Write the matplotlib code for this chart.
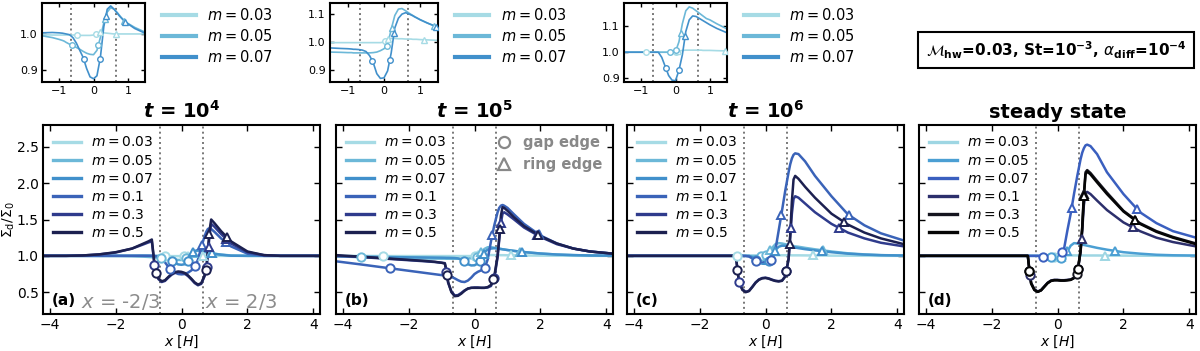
import numpy as np
import matplotlib.pyplot as plt
from matplotlib.lines import Line2D

# shared x grid (in units of H) for all curves
x_main = [-4.2, -3.5, -3.0, -2.5, -2.0, -1.5, -1.2, -1.0, -0.9, -0.85, -0.8, -0.7, -0.6,
          -0.5, -0.4, -0.3, -0.2, -0.1, 0.0, 0.1, 0.2, 0.3, 0.4, 0.5, 0.6, 0.7, 0.75,
          0.8, 0.85, 0.9, 1.0, 1.2, 1.5, 2.0, 2.5, 3.0, 3.5, 4.2]

m_labels = ['0.03', '0.05', '0.07', '0.1', '0.3', '0.5']

# (a) t = 1e4
a_003 = [1.0, 1.0, 1.0, 1.0, 0.999, 0.998, 0.997, 0.997, 0.997, 0.997, 0.997, 0.997, 0.997,
         0.997, 0.996, 0.996, 0.996, 0.996, 0.997, 1.0, 1.004, 1.003, 1.002, 1.001, 1.0, 1.0, 1.0,
         1.0, 1.0, 1.0, 1.0, 1.0, 1.0, 1.0, 1.0, 1.0, 1.0, 1.0]
a_005 = [1.0, 1.0, 1.0, 0.999, 0.998, 0.995, 0.99, 0.985, 0.982, 0.98, 0.977, 0.972, 0.968,
         0.963, 0.958, 0.952, 0.947, 0.944, 0.943, 0.955, 0.99, 1.03, 1.06, 1.072, 1.068, 1.058, 1.052,
         1.046, 1.041, 1.036, 1.029, 1.018, 1.005, 1.0, 1.0, 1.0, 1.0, 1.0]
a_007 = [1.0, 1.0, 1.0, 1.0, 1.001, 1.003, 1.004, 1.003, 1.002, 1.001, 1.0, 0.998, 0.99,
         0.975, 0.955, 0.935, 0.905, 0.882, 0.877, 0.885, 0.935, 1.02, 1.068, 1.077, 1.068, 1.056, 1.05,
         1.045, 1.04, 1.035, 1.028, 1.015, 1.002, 1.0, 1.0, 1.0, 1.0, 1.0]
a_01 = [1.0, 1.0, 1.0, 1.0, 1.0, 1.0, 1.0, 1.0, 1.0, 0.998, 0.995, 0.98, 0.95,
        0.91, 0.85, 0.8, 0.77, 0.75, 0.745, 0.75, 0.77, 0.8, 0.84, 0.95, 1.12, 1.27, 1.33,
        1.37, 1.38, 1.37, 1.33, 1.24, 1.13, 1.03, 1.0, 1.0, 1.0, 1.0]
a_03 = [1.0, 1.0, 1.005, 1.02, 1.045, 1.1, 1.15, 1.185, 1.2, 1.0, 0.78, 0.68, 0.64,
        0.655, 0.7, 0.74, 0.765, 0.775, 0.77, 0.755, 0.72, 0.675, 0.625, 0.595, 0.615, 0.72, 0.8,
        1.02, 1.28, 1.44, 1.4, 1.3, 1.17, 1.05, 1.01, 1.0, 1.0, 1.0]
a_05 = [1.0, 1.0, 1.005, 1.02, 1.05, 1.1, 1.16, 1.2, 1.225, 1.02, 0.79, 0.69, 0.65,
        0.665, 0.71, 0.75, 0.775, 0.785, 0.78, 0.765, 0.73, 0.685, 0.635, 0.605, 0.625, 0.73, 0.82,
        1.08, 1.35, 1.5, 1.45, 1.34, 1.2, 1.06, 1.01, 1.0, 1.0, 1.0]
a_gap = [[-0.49, 0.07], [-0.62, 0.14], [-0.29, 0.19], [-0.35, 0.42], [-0.82, 0.76], [-0.78, 0.74]]
a_ring = [[0.2, 0.65], [0.34, 0.9], [0.36, 0.93], [0.62, 1.35], [0.82, 1.35], [0.84, 1.38]]

# (b) t = 1e5
b_003 = [1.0, 0.999, 0.998, 0.997, 0.997, 0.997, 0.997, 0.997, 0.997, 0.997, 0.997, 0.997, 0.997,
         0.997, 0.997, 0.997, 0.997, 0.997, 0.999, 1.01, 1.012, 1.012, 1.011, 1.011, 1.01, 1.01, 1.01,
         1.009, 1.009, 1.009, 1.008, 1.007, 1.005, 1.003, 1.002, 1.001, 1.0, 1.0]
b_005 = [0.995, 0.982, 0.975, 0.97, 0.966, 0.963, 0.962, 0.961, 0.961, 0.96, 0.96, 0.96, 0.96,
         0.96, 0.96, 0.961, 0.963, 0.968, 0.975, 0.99, 1.045, 1.095, 1.118, 1.12, 1.112, 1.103, 1.099,
         1.095, 1.091, 1.087, 1.08, 1.068, 1.052, 1.032, 1.018, 1.01, 1.005, 1.002]
b_007 = [0.997, 0.99, 0.986, 0.983, 0.98, 0.978, 0.976, 0.975, 0.974, 0.973, 0.973, 0.972, 0.97,
         0.965, 0.95, 0.925, 0.885, 0.868, 0.87, 0.895, 0.96, 1.05, 1.085, 1.1, 1.105, 1.1, 1.097,
         1.094, 1.09, 1.087, 1.08, 1.068, 1.052, 1.032, 1.018, 1.01, 1.005, 1.002]
b_01 = [0.925, 0.885, 0.855, 0.825, 0.795, 0.765, 0.747, 0.735, 0.73, 0.727, 0.723, 0.71, 0.69,
        0.665, 0.645, 0.64, 0.66, 0.7, 0.75, 0.78, 0.8, 0.82, 0.95, 1.2, 1.42, 1.6, 1.66,
        1.69, 1.7, 1.69, 1.66, 1.57, 1.44, 1.28, 1.17, 1.1, 1.06, 1.03]
b_03 = [1.0, 0.985, 0.97, 0.955, 0.94, 0.925, 0.915, 0.905, 0.9, 0.78, 0.63, 0.51, 0.455,
        0.46, 0.49, 0.525, 0.55, 0.56, 0.565, 0.565, 0.56, 0.56, 0.565, 0.585, 0.69, 0.98, 1.22,
        1.45, 1.58, 1.6, 1.57, 1.5, 1.39, 1.26, 1.16, 1.1, 1.06, 1.03]
b_05 = [1.01, 0.99, 0.975, 0.96, 0.945, 0.93, 0.918, 0.905, 0.895, 0.8, 0.64, 0.5, 0.445,
        0.45, 0.48, 0.52, 0.55, 0.56, 0.56, 0.56, 0.56, 0.56, 0.57, 0.6, 0.72, 1.0, 1.25,
        1.55, 1.67, 1.66, 1.62, 1.53, 1.41, 1.27, 1.17, 1.1, 1.06, 1.03]
b_gap = [[-2.77, 0.02], [-3.45, 0.07], [-0.32, 0.16], [-2.57, 0.31], [-0.85, 0.6], [-0.83, 0.57]]
b_ring = [[0.1, 1.1], [0.21, 1.39], [0.28, 1.45], [0.54, 1.95], [0.8, 1.9], [0.77, 1.92]]

# (c) t = 1e6
c_003 = [1.0, 1.0, 1.0, 1.0, 1.0, 1.0, 1.0, 1.0, 1.0, 1.0, 1.0, 1.0, 1.0,
         1.0, 1.0, 1.0, 1.0, 1.0, 1.0, 1.004, 1.007, 1.008, 1.008, 1.008, 1.008, 1.008, 1.008,
         1.007, 1.007, 1.007, 1.007, 1.006, 1.005, 1.003, 1.002, 1.001, 1.0, 1.0]
c_005 = [1.0, 1.0, 1.0, 1.0, 1.0, 1.0, 1.0, 1.0, 1.0, 1.0, 1.0, 1.0, 1.0,
         1.0, 1.0, 1.0, 1.0, 1.0, 1.002, 1.04, 1.11, 1.16, 1.175, 1.17, 1.16, 1.15, 1.145,
         1.14, 1.135, 1.13, 1.125, 1.11, 1.09, 1.06, 1.035, 1.02, 1.01, 1.005]
c_007 = [1.0, 1.0, 1.0, 1.0, 1.0, 1.0, 1.0, 1.0, 1.0, 1.0, 1.0, 1.0, 1.0,
         1.0, 0.98, 0.945, 0.91, 0.892, 0.89, 0.93, 0.99, 1.08, 1.125, 1.14, 1.138, 1.13, 1.126,
         1.122, 1.118, 1.114, 1.106, 1.092, 1.075, 1.05, 1.03, 1.017, 1.009, 1.004]
c_01 = [1.0, 1.0, 1.0, 1.0, 1.0, 1.0, 1.0, 1.0, 1.0, 1.0, 1.0, 1.0, 0.998,
        0.99, 0.965, 0.935, 0.92, 0.918, 0.922, 0.93, 0.95, 1.08, 1.35, 1.62, 1.9, 2.15, 2.26,
        2.34, 2.39, 2.41, 2.4, 2.3, 2.1, 1.82, 1.57, 1.42, 1.31, 1.21]
c_03 = [1.0, 1.0, 1.0, 1.0, 1.0, 1.0, 1.0, 1.0, 1.0, 0.82, 0.64, 0.54, 0.505,
        0.52, 0.575, 0.635, 0.675, 0.695, 0.7, 0.69, 0.672, 0.658, 0.652, 0.66, 0.72, 0.95, 1.25,
        1.58, 1.78, 1.82, 1.8, 1.72, 1.6, 1.44, 1.32, 1.24, 1.18, 1.13]
c_05 = [1.0, 1.0, 1.0, 1.0, 1.0, 1.0, 1.0, 1.0, 1.0, 0.8, 0.63, 0.53, 0.5,
        0.515, 0.57, 0.63, 0.67, 0.69, 0.695, 0.685, 0.668, 0.654, 0.648, 0.656, 0.715, 0.96, 1.3,
        1.75, 2.05, 2.1, 2.06, 1.95, 1.8, 1.58, 1.43, 1.32, 1.24, 1.16]
c_gap = [[-0.85, 0.0], [-0.15, 0.02], [-0.28, 0.1], [-0.3, 0.18], [-0.8, 0.63], [-0.85, 0.63]]
c_ring = [[0.08, 1.45], [0.15, 1.75], [0.28, 1.72], [0.48, 2.54], [0.77, 2.24], [0.73, 2.37]]

# (d) steady state
d_003 = [1.0, 1.0, 1.0, 1.0, 1.0, 1.0, 1.0, 1.0, 1.0, 1.0, 1.0, 1.0, 1.0,
         1.0, 1.0, 1.0, 0.995, 0.985, 0.98, 0.985, 1.0, 1.005, 1.006, 1.006, 1.006, 1.006, 1.006,
         1.005, 1.005, 1.005, 1.005, 1.005, 1.004, 1.003, 1.002, 1.001, 1.0, 1.0]
d_005 = [1.0, 1.0, 1.0, 1.0, 1.0, 1.0, 1.0, 1.0, 1.0, 1.0, 1.0, 1.0, 1.0,
         1.0, 1.0, 0.995, 0.985, 0.965, 0.96, 0.965, 1.0, 1.06, 1.14, 1.175, 1.17, 1.16, 1.155,
         1.15, 1.145, 1.14, 1.13, 1.11, 1.085, 1.05, 1.03, 1.015, 1.008, 1.004]
d_007 = [1.0, 1.0, 1.0, 1.0, 1.0, 1.0, 1.0, 1.0, 1.0, 1.0, 1.0, 1.0, 1.0,
         0.995, 0.98, 0.96, 0.945, 0.94, 0.95, 1.0, 1.1, 1.35, 1.58, 1.85, 2.1, 2.33, 2.42,
         2.48, 2.52, 2.53, 2.51, 2.4, 2.15, 1.85, 1.6, 1.45, 1.34, 1.25]
d_01 = [1.0, 1.0, 1.0, 1.0, 1.0, 1.0, 1.0, 1.0, 1.0, 0.8, 0.63, 0.54, 0.51,
        0.53, 0.58, 0.63, 0.66, 0.67, 0.67, 0.665, 0.665, 0.67, 0.675, 0.7, 0.76, 1.05, 1.35,
        1.7, 1.86, 1.88, 1.85, 1.76, 1.63, 1.46, 1.34, 1.25, 1.19, 1.13]
d_03 = [1.0, 1.0, 1.0, 1.0, 1.0, 1.0, 1.0, 1.0, 1.0, 0.79, 0.62, 0.53, 0.505,
        0.525, 0.575, 0.625, 0.655, 0.665, 0.665, 0.66, 0.66, 0.665, 0.67, 0.695, 0.755, 1.08, 1.4,
        1.85, 2.15, 2.18, 2.14, 2.03, 1.87, 1.62, 1.45, 1.34, 1.26, 1.17]
d_05 = [1.0, 1.0, 1.0, 1.0, 1.0, 1.0, 1.0, 1.0, 1.0, 0.79, 0.62, 0.53, 0.505,
        0.525, 0.575, 0.625, 0.655, 0.665, 0.665, 0.66, 0.66, 0.665, 0.67, 0.695, 0.755, 1.07, 1.38,
        1.82, 2.12, 2.16, 2.12, 2.01, 1.85, 1.61, 1.44, 1.33, 1.25, 1.16]
d_gap = [[-0.1, 0.05], [-0.2, 0.12], [-0.45, 0.15], [-0.83, 0.62], [-0.85, 0.6], [-0.85, 0.62]]
d_ring = [[0.1, 1.44], [0.3, 1.74], [0.43, 2.42], [0.73, 2.29], [0.8, 2.36], [0.8, 2.36]]

titles = [r'$\boldsymbol{t}$ = 10$^\mathbf{4}$', r'$\boldsymbol{t}$ = 10$^\mathbf{5}$',
          r'$\boldsymbol{t}$ = 10$^\mathbf{6}$', 'steady state']
tags = ['(a)', '(b)', '(c)', '(d)']

colors = ['#a6dbe5', '#6cb8d8', '#4190cb', '#3a63b8', '#2f3b8c', '#1c2050']
colors_d = ['#9ed6e3', '#4b9fd3', '#3a5fbf', '#2c2f6c', '#15151f', '#050505']

panels = [
    ([a_003, a_005, a_007, a_01, a_03, a_05], a_gap, a_ring, colors),
    ([b_003, b_005, b_007, b_01, b_03, b_05], b_gap, b_ring, colors),
    ([c_003, c_005, c_007, c_01, c_03, c_05], c_gap, c_ring, colors),
    ([d_003, d_005, d_007, d_01, d_03, d_05], d_gap, d_ring, colors_d),
]

W, H = 1200, 351
fig = plt.figure(figsize=(12, 3.51), dpi=100)


def style(ax, fs):
    ax.tick_params(direction='in', top=True, right=True, labelsize=fs, length=4, width=1, pad=3)
    for s in ax.spines.values():
        s.set_linewidth(1.5)


def draw(ax, curves, gaps, rings, cols, n, lw, ms, mew):
    for i in range(n):
        ax.plot(x_main, curves[i], color=cols[i], lw=lw, label=r'$m = %s$' % m_labels[i], zorder=2 + i * 0.1)
        gy = np.interp(gaps[i], x_main, curves[i])
        ry = np.interp(rings[i], x_main, curves[i])
        ax.plot(gaps[i], gy, 'o', ls='', mfc='white', mec=cols[i], ms=ms, mew=mew, zorder=4)
        ax.plot(rings[i], ry, '^', ls='', mfc='white', mec=cols[i], ms=ms, mew=mew, zorder=4)
    for xv in (-2 / 3, 2 / 3):
        ax.axvline(xv, color='#777777', ls=':', lw=1.4, zorder=1)


def m_legend(ax):
    hs = [Line2D([], [], color=l.get_color(), lw=2.4) for l in ax.get_lines()[0:18:3]]
    return ax.legend(hs, [r'$m = %s$' % m for m in m_labels], loc='upper left', frameon=False,
                     fontsize=10, handlelength=2.0, labelspacing=0.3, borderaxespad=0.35,
                     handletextpad=0.7)


lefts = [43, 336, 627, 919]
for k, (curves, gaps, rings, cols) in enumerate(panels):
    ax = fig.add_axes([lefts[k] / W, 37 / H, 277 / W, 189 / H])
    draw(ax, curves, gaps, rings, cols, 6, 1.8, 6, 1.4)
    ax.set_xlim(-4.2, 4.2)
    ax.set_ylim(0.2, 2.8)
    ax.set_xticks([-4, -2, 0, 2, 4])
    ax.set_yticks([0.5, 1.0, 1.5, 2.0, 2.5])
    style(ax, 10)
    if k > 0:
        ax.set_yticklabels([])
    else:
        ax.set_ylabel(r'$\Sigma_{\rm d}/\Sigma_0$', fontsize=10, labelpad=0)
    ax.set_xlabel(r'$x$ [$H$]', fontsize=10, labelpad=1)
    ax.set_title(titles[k], fontsize=14, fontweight='bold', pad=5)
    ax.text(0.03, 0.05, tags[k], transform=ax.transAxes, fontsize=11, fontweight='bold')
    leg_m = m_legend(ax)
    if k == 0:
        ax.text(-1.85, 0.36, r'$x$ = -2/3', color='#8c8c8c', fontsize=14, ha='center', va='center')
        ax.text(1.82, 0.36, r'$x$ = 2/3', color='#8c8c8c', fontsize=14, ha='center', va='center')
    if k == 1:
        ax.add_artist(leg_m)
        leg = ax.legend(handles=[
            Line2D([], [], marker='o', ls='', mfc='none', mec='#888888', ms=8, mew=1.6),
            Line2D([], [], marker='^', ls='', mfc='none', mec='#888888', ms=8, mew=1.6)],
            labels=['gap edge', 'ring edge'], loc='upper right', frameon=False,
            prop={'size': 10.5, 'weight': 'bold'}, handletextpad=0.3, labelspacing=0.5,
            borderaxespad=0.3)
        for t in leg.get_texts():
            t.set_color('#888888')

# zoomed insets for the three lowest masses
inset_pos = [42, 330, 624]
inset_w = [103, 108, 103]
inset_ylim = [(0.868, 1.085), (0.855, 1.14), (0.885, 1.19)]
inset_yticks = [[0.9, 1.0], [0.9, 1.0, 1.1], [0.9, 1.0, 1.1]]
for k in range(3):
    curves, gaps, rings, cols = panels[k]
    ax = fig.add_axes([inset_pos[k] / W, 269 / H, inset_w[k] / W, 79 / H])
    draw(ax, curves, gaps, rings, cols, 3, 1.2, 4, 1.0)
    ax.set_xlim(-1.5, 1.5)
    ax.set_ylim(*inset_ylim[k])
    ax.set_xticks([-1, 0, 1])
    ax.set_yticks(inset_yticks[k])
    style(ax, 8)
    ax.tick_params(length=3)
    handles = [Line2D([], [], color=cols[i], lw=3) for i in range(3)]
    ax.legend(handles, [r'$m = %s$' % m_labels[i] for i in range(3)], loc='center left',
              bbox_to_anchor=(1.04, 0.58), frameon=False, fontsize=10.5, handlelength=2.3,
              labelspacing=0.35, handletextpad=0.8)

fig.text(1056 / W, 1 - 50 / H,
         r'$\mathcal{M}_\mathbf{hw}$=0.03, St=10$^\mathbf{-3}$, $\alpha_\mathbf{diff}$=10$^\mathbf{-4}$',
         fontsize=11, fontweight='bold', ha='center', va='center',
         bbox=dict(boxstyle='square,pad=0.5', fc='white', ec='black', lw=1.5))

fig.savefig('out.png', dpi=100)
